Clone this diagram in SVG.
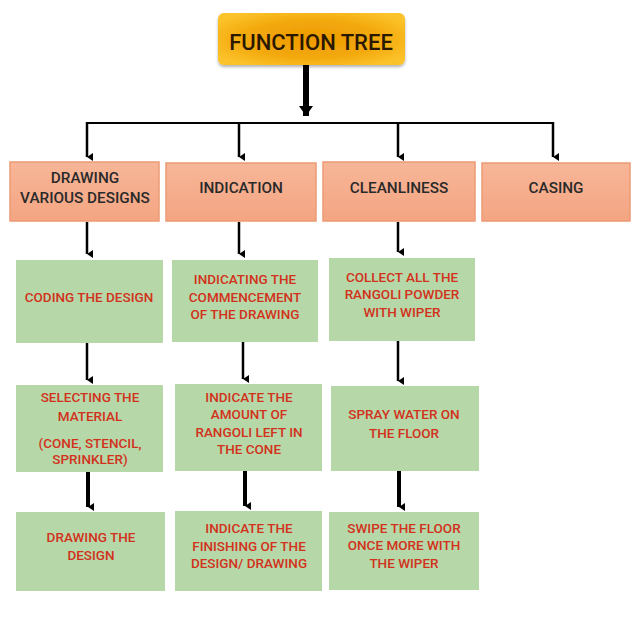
<svg xmlns="http://www.w3.org/2000/svg" width="642" height="623" viewBox="0 0 642 623">
<defs>
<radialGradient id="gold" cx="50%" cy="50%" r="60%">
<stop offset="0" stop-color="#ee9a00"/>
<stop offset="0.6" stop-color="#f3a90c"/>
<stop offset="1" stop-color="#fcc22a"/>
</radialGradient>
<linearGradient id="sal" x1="0" y1="0" x2="0" y2="1">
<stop offset="0" stop-color="#f7b698"/>
<stop offset="1" stop-color="#f4a582"/>
</linearGradient>
<filter id="sh" x="-10%" y="-20%" width="120%" height="150%">
<feDropShadow dx="0" dy="2" stdDeviation="1.5" flood-color="#000" flood-opacity="0.3"/>
</filter>
<marker id="ah" markerWidth="8" markerHeight="6" refX="4" refY="6" orient="auto-start-reverse" markerUnits="userSpaceOnUse" viewBox="0 0 8 6">
<path d="M0,0 L8,0 L4,6 Z" fill="#000"/>
</marker>
<marker id="ahb" markerWidth="14" markerHeight="10" refX="7" refY="10" markerUnits="userSpaceOnUse" viewBox="0 0 14 10">
<path d="M0,0 L14,0 L7,10 Z" fill="#000"/>
</marker>
</defs>
<style>
.t{font-family:Roboto,"Liberation Sans",sans-serif;font-weight:500;text-anchor:middle}
.h{font-size:22px;fill:#2b1800}
.l1{font-size:15.3px;fill:#2a2a2a}
.g{font-size:13.5px;fill:#d2321c}
.ob{fill:url(#sal);stroke:#ec9a74;stroke-width:1.5}
.gb{fill:#b6d7a8}
.c{stroke:#000;fill:none;stroke-width:2.5}
.ct{stroke:#000;fill:none;stroke-width:4}
</style>
<rect width="642" height="623" fill="#fff"/>
<g id="connectors">
<line x1="306" y1="65" x2="306" y2="116" stroke="#000" stroke-width="6" marker-end="url(#ahb)"/>
<path d="M87,123 H553" stroke="#000" stroke-width="2" fill="none"/>
<line class="c" x1="87" y1="122" x2="87" y2="157" marker-end="url(#ah)"/>
<line class="c" x1="239" y1="122" x2="239" y2="157" marker-end="url(#ah)"/>
<line class="c" x1="398" y1="122" x2="398" y2="157" marker-end="url(#ah)"/>
<line class="c" x1="553" y1="122" x2="553" y2="157" marker-end="url(#ah)"/>
<line class="c" x1="87" y1="222" x2="87" y2="254" marker-end="url(#ah)"/>
<line class="c" x1="239" y1="222" x2="239" y2="254" marker-end="url(#ah)"/>
<line class="c" x1="398" y1="222" x2="398" y2="252" marker-end="url(#ah)"/>
<line class="c" x1="87" y1="343" x2="87" y2="380" marker-end="url(#ah)"/>
<line class="c" x1="243" y1="342" x2="243" y2="379" marker-end="url(#ah)"/>
<line class="c" x1="398" y1="341" x2="398" y2="381" marker-end="url(#ah)"/>
<line class="ct" x1="88" y1="472" x2="88" y2="507" marker-end="url(#ah)"/>
<line class="ct" x1="245" y1="471" x2="245" y2="506" marker-end="url(#ah)"/>
<line class="ct" x1="399" y1="471" x2="399" y2="507" marker-end="url(#ah)"/>
</g>
<g id="title">
<rect x="218" y="13" width="187" height="52" rx="6" fill="url(#gold)" filter="url(#sh)"/>
<text class="t h" x="311" y="50">FUNCTION TREE</text>
</g>
<g id="drawing">
<rect class="ob" x="10" y="162" width="149" height="59"/>
<text class="t l1" x="85" y="182.5">DRAWING</text>
<text class="t l1" x="85" y="202.5">VARIOUS DESIGNS</text>
</g>
<g id="indication">
<rect class="ob" x="166" y="163" width="150" height="58"/>
<text class="t l1" x="241" y="192.5">INDICATION</text>
</g>
<g id="cleanliness">
<rect class="ob" x="323" y="162" width="152" height="59"/>
<text class="t l1" x="399" y="192.5">CLEANLINESS</text>
</g>
<g id="casing">
<rect class="ob" x="482" y="163" width="148" height="58"/>
<text class="t l1" x="556" y="192.5">CASING</text>
</g>
<g id="coding">
<rect class="gb" x="16" y="260" width="147" height="83"/>
<text class="t g" x="89" y="302">CODING THE DESIGN</text>
</g>
<g id="indicating-commencement">
<rect class="gb" x="172" y="260" width="146" height="82"/>
<text class="t g" x="245" y="284">INDICATING THE</text>
<text class="t g" x="245" y="302">COMMENCEMENT</text>
<text class="t g" x="245" y="318.5">OF THE DRAWING</text>
</g>
<g id="collect">
<rect class="gb" x="329" y="258" width="146" height="83"/>
<text class="t g" x="402" y="282">COLLECT ALL THE</text>
<text class="t g" x="402" y="299">RANGOLI POWDER</text>
<text class="t g" x="402" y="317">WITH WIPER</text>
</g>
<g id="selecting">
<rect class="gb" x="16" y="385" width="147" height="87"/>
<text class="t g" x="90" y="402">SELECTING THE</text>
<text class="t g" x="90" y="420.5">MATERIAL</text>
<text class="t g" x="90" y="448">(CONE, STENCIL,</text>
<text class="t g" x="90" y="464">SPRINKLER)</text>
</g>
<g id="indicate-amount">
<rect class="gb" x="175" y="384" width="147" height="87"/>
<text class="t g" x="249" y="402">INDICATE THE</text>
<text class="t g" x="249" y="419">AMOUNT OF</text>
<text class="t g" x="249" y="437">RANGOLI LEFT IN</text>
<text class="t g" x="249" y="454">THE CONE</text>
</g>
<g id="spray">
<rect class="gb" x="331" y="386" width="148" height="85"/>
<text class="t g" x="404" y="419">SPRAY WATER ON</text>
<text class="t g" x="404" y="437.5">THE FLOOR</text>
</g>
<g id="drawing-design">
<rect class="gb" x="16" y="512" width="149" height="79"/>
<text class="t g" x="91" y="542">DRAWING THE</text>
<text class="t g" x="91" y="560">DESIGN</text>
</g>
<g id="indicate-finishing">
<rect class="gb" x="175" y="511" width="147" height="80"/>
<text class="t g" x="249" y="533">INDICATE THE</text>
<text class="t g" x="249" y="551">FINISHING OF THE</text>
<text class="t g" x="249" y="568">DESIGN/ DRAWING</text>
</g>
<g id="swipe">
<rect class="gb" x="329" y="512" width="150" height="78"/>
<text class="t g" x="404" y="533">SWIPE THE FLOOR</text>
<text class="t g" x="404" y="550">ONCE MORE WITH</text>
<text class="t g" x="404" y="568">THE WIPER</text>
</g>
</svg>
